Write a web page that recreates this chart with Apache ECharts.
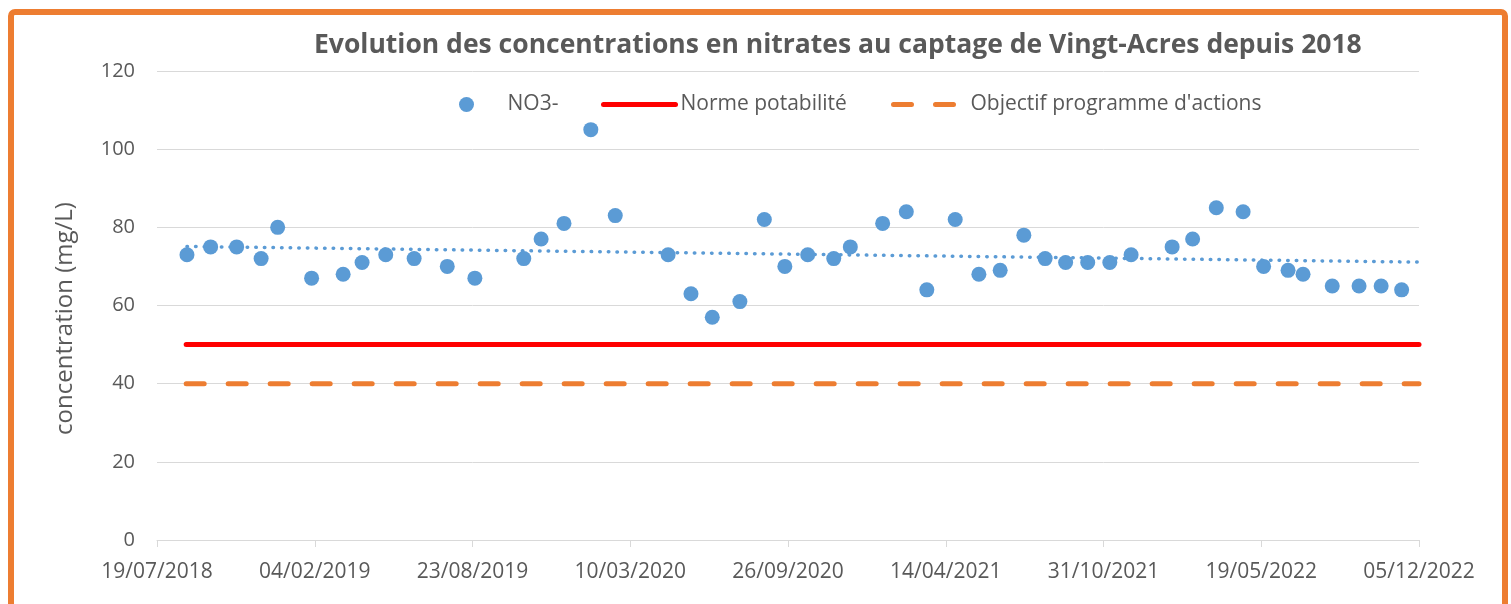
<!DOCTYPE html>
<html>
<head>
<meta charset="utf-8">
<script src="https://cdn.jsdelivr.net/npm/echarts@6/dist/echarts.min.js"></script>
<style>
  html, body { margin: 0; padding: 0; background: #fff; }
  #chart { width: 1511px; height: 604px; }
</style>
</head>
<body>
<div id="chart"></div>
<script>
// sampling dates (dd/mm/yyyy) and nitrate concentrations (mg/L)
var sampleDates = [
    '26/08/2018', '25/09/2018', '28/10/2018', '28/11/2018', '19/12/2018',
    '31/01/2019', '12/03/2019', '05/04/2019', '05/05/2019', '10/06/2019',
    '22/07/2019', '26/08/2019', '27/10/2019', '18/11/2019', '17/12/2019',
    '20/01/2020', '20/02/2020', '27/04/2020', '26/05/2020', '22/06/2020',
    '27/07/2020', '27/08/2020', '22/09/2020', '21/10/2020', '23/11/2020',
    '14/12/2020', '24/01/2021', '23/02/2021', '21/03/2021', '26/04/2021',
    '26/05/2021', '22/06/2021', '22/07/2021', '18/08/2021', '13/09/2021',
    '11/10/2021', '08/11/2021', '05/12/2021', '26/01/2022', '21/02/2022',
    '23/03/2022', '26/04/2022', '22/05/2022', '22/06/2022', '11/07/2022',
    '17/08/2022', '20/09/2022', '18/10/2022', '13/11/2022'
];
var no3Values = [
    73, 75, 75, 72, 80,
    67, 68, 71, 73, 72,
    70, 67, 72, 77, 81,
    105, 83, 73, 63, 57,
    61, 82, 70, 73, 72,
    75, 81, 84, 64, 82,
    68, 69, 78, 72, 71,
    71, 71, 73, 75, 77,
    85, 84, 70, 69, 68,
    65, 65, 65, 64
];

// reference lines
var refDates = ['25/08/2018', '05/12/2022'];
var normeValues = [50, 50];
var objectifValues = [40, 40];

// linear trend
var trendDates = ['26/08/2018', '05/12/2022'];
var trendValues = [75.1, 71.1];

var xTickLabels = ['19/07/2018', '04/02/2019', '23/08/2019', '10/03/2020', '26/09/2020',
                   '14/04/2021', '31/10/2021', '19/05/2022', '05/12/2022'];

var textColor = '#595959';
var font = 'Open Sans';

// days since the first tick (19/07/2018)
function toDay(str) {
    var p = str.split('/');
    var t = Date.UTC(Number(p[2]), Number(p[1]) - 1, Number(p[0]));
    return Math.round((t - Date.UTC(2018, 6, 19)) / 86400000);
}
function pairs(dates, values) {
    var out = [];
    for (var i = 0; i < dates.length; i++) out.push([toDay(dates[i]), values[i]]);
    return out;
}

var myChart = echarts.init(document.getElementById('chart'), null, { renderer: 'canvas' });

var legendText = { color: textColor, fontFamily: font, fontSize: 21 };

var option = {
    animation: false,
    graphic: [{
        type: 'rect',
        shape: { x: 11, y: 12, width: 1494, height: 640, r: 4 },
        style: { fill: 'none', stroke: '#ED7D31', lineWidth: 6 },
        silent: true
    }],
    title: {
        text: 'Evolution des concentrations en nitrates au captage de Vingt-Acres depuis 2018',
        left: 309,
        top: 27,
        textStyle: { color: textColor, fontFamily: font, fontWeight: 'bold', fontSize: 26.5 }
    },
    legend: [
        {
            data: ['NO3-'], left: 454, top: 89, itemWidth: 72, itemHeight: 15,
            textStyle: legendText
        },
        {
            data: ['Norme potabilité'], left: 596, top: 89, itemWidth: 72, itemHeight: 15,
            textStyle: legendText, lineStyle: { width: 5, cap: 'round' },
            itemStyle: { opacity: 0 }
        },
        {
            data: ["Objectif programme d'actions"], left: 886, top: 89, itemWidth: 72, itemHeight: 15,
            textStyle: legendText, lineStyle: { width: 5, cap: 'round' },
            itemStyle: { opacity: 0 }
        }
    ],
    grid: { left: 157, right: 92, top: 71, bottom: 64 },
    xAxis: {
        type: 'value',
        min: 0,
        max: 1600,
        interval: 200,
        splitLine: { show: false },
        axisLine: { lineStyle: { color: '#d9d9d9', width: 1 } },
        axisTick: { show: true, length: 7, lineStyle: { color: '#d9d9d9' } },
        axisLabel: {
            color: textColor, fontFamily: font, fontSize: 21, margin: 22,
            formatter: function (v) { return xTickLabels[Math.round(v / 200)] || ''; }
        }
    },
    yAxis: {
        type: 'value',
        min: 0,
        max: 120,
        interval: 20,
        name: 'concentration (mg/L)',
        nameLocation: 'middle',
        nameGap: 80,
        nameTextStyle: { color: textColor, fontFamily: font, fontSize: 24, padding: [0, 26, 0, 0] },
        axisLine: { show: false },
        axisTick: { show: false },
        splitLine: { lineStyle: { color: '#d9d9d9', width: 1 } },
        axisLabel: { color: textColor, fontFamily: font, fontSize: 20, margin: 22 }
    },
    series: [
        {
            name: 'Objectif programme d\'actions',
            type: 'line',
            data: pairs(refDates, objectifValues),
            symbol: 'none',
            color: '#ED7D31',
            lineStyle: { color: '#ED7D31', width: 5, type: [18, 24], cap: 'round' },
            z: 2
        },
        {
            name: 'Norme potabilité',
            type: 'line',
            data: pairs(refDates, normeValues),
            symbol: 'none',
            color: '#FF0000',
            lineStyle: { color: '#FF0000', width: 5, cap: 'round' },
            z: 3
        },
        {
            name: 'trend',
            type: 'line',
            data: pairs(trendDates, trendValues),
            symbol: 'none',
            color: '#5B9BD5',
            lineStyle: { color: '#5B9BD5', width: 3.5, type: [0.5, 8.1], cap: 'round' },
            z: 4
        },
        {
            name: 'NO3-',
            type: 'scatter',
            data: pairs(sampleDates, no3Values),
            symbol: 'circle',
            symbolSize: 15,
            itemStyle: { color: '#5B9BD5', opacity: 1 },
            z: 5
        }
    ]
};

if (option && typeof option === 'object') {
    myChart.setOption(option);
}
</script>
</body>
</html>
